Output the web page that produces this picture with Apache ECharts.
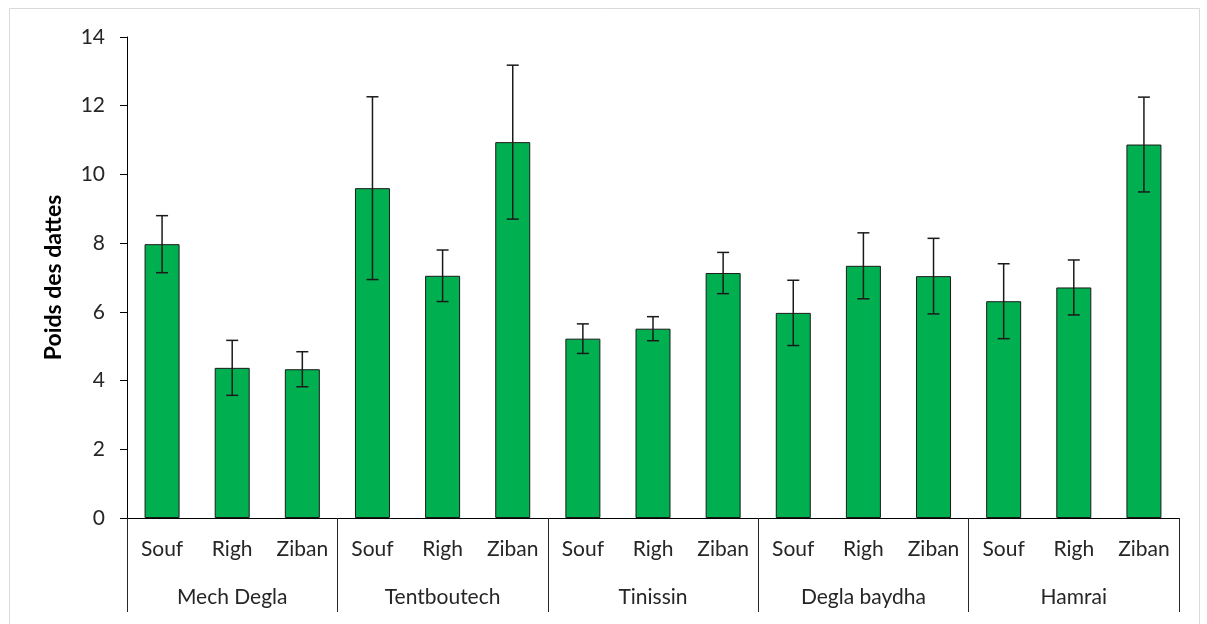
<!DOCTYPE html>
<html>
<head>
<meta charset="utf-8">
<script src="https://cdn.jsdelivr.net/npm/echarts@6/dist/echarts.min.js"></script>
<style>
  html, body { margin: 0; padding: 0; background: #ffffff; }
  #chart { width: 1207px; height: 624px; }
</style>
</head>
<body>
<div id="chart"></div>
<script>
// Date varieties (outer groups) and regions (inner categories)
const varieties = ['Mech Degla', 'Tentboutech', 'Tinissin', 'Degla baydha', 'Hamrai'];
const regions = ['Souf', 'Righ', 'Ziban'];

// Mean date weight per variety x region, in reading order
const meanWeight = [7.97, 4.37, 4.33, 9.60, 7.05, 10.94, 5.22, 5.51, 7.13, 5.97, 7.34, 7.04, 6.31, 6.71, 10.87];
// Standard deviation for each bar
const stdDev = [0.83, 0.80, 0.51, 2.66, 0.75, 2.24, 0.43, 0.35, 0.60, 0.95, 0.96, 1.10, 1.09, 0.80, 1.38];

// Y axis tick range
const yMin = 0, yMax = 14, yStep = 2;

const categories = [];
varieties.forEach(v => regions.forEach(r => categories.push(r)));

const errorData = meanWeight.map((m, i) => [i, m - stdDev[i], m + stdDev[i]]);

const FONT = 'Lato, "Open Sans", sans-serif';
const TEXT = '#262626';
const chart = echarts.init(document.getElementById('chart'), null, { renderer: 'canvas' });

chart.setOption({
  backgroundColor: '#ffffff',
  animation: false,
  graphic: [{
    type: 'rect',
    shape: { x: 9.5, y: 8.5, width: 1190, height: 640 },
    style: { fill: 'none', stroke: '#d9d9d9', lineWidth: 1 },
    silent: true,
    z: -10
  }],
  grid: { left: 127, right: 28, top: 37, bottom: 106, containLabel: false },
  xAxis: [{
    type: 'category',
    data: categories,
    position: 'bottom',
    axisLine: { show: true, lineStyle: { color: '#000000', width: 1 } },
    axisTick: { show: false },
    axisLabel: { color: TEXT, fontSize: 21, fontFamily: FONT, margin: 21, interval: 0 },
    splitLine: { show: false }
  }, {
    type: 'category',
    data: varieties,
    position: 'bottom',
    axisLine: { show: false },
    axisTick: { show: true, length: 94, alignWithLabel: false, lineStyle: { color: '#262626', width: 1 } },
    axisLabel: { color: TEXT, fontSize: 21, fontFamily: FONT, margin: 69, interval: 0 },
    splitLine: { show: false }
  }],
  yAxis: {
    type: 'value',
    min: yMin, max: yMax, interval: yStep,
    name: 'Poids des dattes',
    nameLocation: 'middle',
    nameGap: 62,
    nameRotate: 90,
    nameTextStyle: { fontSize: 23, fontWeight: 'bold', color: '#000000', fontFamily: FONT },
    axisLine: { show: true, lineStyle: { color: '#000000', width: 1 } },
    axisTick: { show: true, length: 7, lineStyle: { color: '#000000' } },
    axisLabel: { color: TEXT, fontSize: 21, fontFamily: FONT, margin: 22 },
    splitLine: { show: false }
  },
  series: [{
    type: 'bar',
    data: meanWeight,
    barWidth: 35,
    itemStyle: { color: '#00B050', borderColor: '#1a1a1a', borderWidth: 1 },
    z: 2
  }, {
    type: 'custom',
    data: errorData,
    z: 3,
    renderItem: function (params, api) {
      const x = api.value(0);
      const lo = api.coord([x, api.value(1)]);
      const hi = api.coord([x, api.value(2)]);
      const cap = 6;
      const style = { stroke: '#1a1a1a', lineWidth: 1.5 };
      return {
        type: 'group',
        children: [
          { type: 'line', shape: { x1: hi[0], y1: hi[1], x2: lo[0], y2: lo[1] }, style: style },
          { type: 'line', shape: { x1: hi[0] - cap, y1: hi[1], x2: hi[0] + cap, y2: hi[1] }, style: style },
          { type: 'line', shape: { x1: lo[0] - cap, y1: lo[1], x2: lo[0] + cap, y2: lo[1] }, style: style }
        ]
      };
    }
  }]
});
</script>
</body>
</html>
